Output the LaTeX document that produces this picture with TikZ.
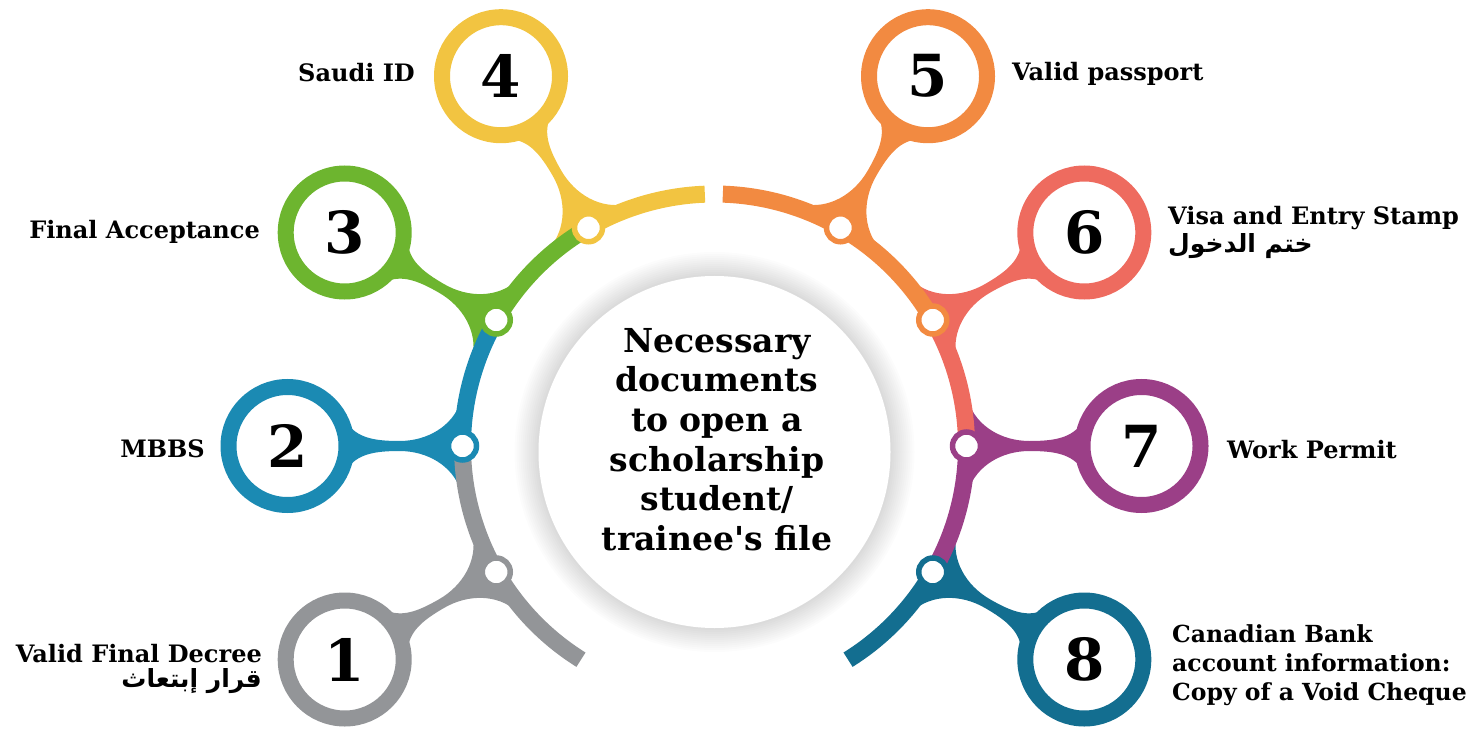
\documentclass[tikz,border=0pt]{standalone}
\usepackage{fontspec}
\setmainfont{DejaVu Serif}[Ligatures=TeXOff]
\newfontfamily\arabicfont[Script=Arabic]{DejaVu Sans}
\TeXXeTstate=1
\usetikzlibrary{calc}
\definecolor{cgray}{HTML}{939598}
\definecolor{cblue}{HTML}{1B8AB3}
\definecolor{cgreen}{HTML}{6DB52F}
\definecolor{cyellow}{HTML}{F2C441}
\definecolor{corange}{HTML}{F28A41}
\definecolor{csalmon}{HTML}{EE6B5F}
\definecolor{cpurple}{HTML}{9B3F87}
\definecolor{cteal}{HTML}{136E90}
\newcommand\branchshape[2]{%
  \fill[#2, shift={(C)}, rotate=#1] (254,44) .. controls (262,20) and (287,5) .. (315,5)
    .. controls (340,5) and (358,8) .. (368,24) -- (427,0) -- (368,-24)
    .. controls (358,-8) and (340,-5) .. (315,-5)
    .. controls (287,-5) and (262,-20) .. (254,-44) -- cycle;}
\begin{document}
\begin{tikzpicture}[x=1pt,y=1pt,
  numcirc/.style={circle, draw=#1, line width=16pt, fill=white, minimum size=118pt, inner sep=0pt,
     font=\fontsize{58}{58}\selectfont\bfseries},
  jointring/.style={circle, draw=#1, line width=5.5pt, fill=white, minimum size=28pt, inner sep=0pt},
  seg/.style={draw=#1, line width=17pt},
  lbl/.style={inner sep=0pt, font=\fontsize{24}{29}\selectfont\bfseries},
  arab/.style={inner sep=0pt, font=\fontsize{25}{29}\selectfont\arabicfont\bfseries},
  ]
\useasboundingbox (0,0) rectangle (1474,732);
\coordinate (C) at (714.5,286);
\coordinate (Cc) at (714.5,280);
% shadow and central circle
\foreach \i in {1,...,12} {\fill[black, opacity=0.011] (Cc) circle ({176+2*\i});}
\fill[white] (Cc) circle (176);
\node[font=\fontsize{33}{39.6}\selectfont\bfseries, align=center, anchor=north, inner sep=0pt] (title)
  at (717,404) {Necessary\\documents\\to open a\\scholarship\\student/\\trainee's file};
% branches
\branchshape{210}{cgray}
\branchshape{180}{cblue}
\branchshape{150}{cgreen}
\branchshape{120}{cyellow}
\branchshape{60}{corange}
\branchshape{30}{csalmon}
\branchshape{0}{cpurple}
\branchshape{-30}{cteal}
% arc segments
\draw[seg=cgray] ($(C)+(238:252)$) arc[start angle=238, end angle=180, radius=252];
\draw[seg=cblue] ($(C)+(180:252)$) arc[start angle=180, end angle=150, radius=252];
\draw[seg=cgreen] ($(C)+(150:252)$) arc[start angle=150, end angle=120, radius=252];
\draw[seg=cyellow] ($(C)+(120:252)$) arc[start angle=120, end angle=92.2, radius=252];
\draw[seg=corange] ($(C)+(88.1:252)$) arc[start angle=88.1, end angle=30, radius=252];
\draw[seg=csalmon] ($(C)+(30:252)$) arc[start angle=30, end angle=0, radius=252];
\draw[seg=cpurple] ($(C)+(0:252)$) arc[start angle=0, end angle=-30, radius=252];
\draw[seg=cteal] ($(C)+(-30:252)$) arc[start angle=-30, end angle=-58, radius=252];
% number circles
\node[numcirc=cgray] (n1) at ($(C)+(210:427)$) {1};
\node[numcirc=cblue] (n2) at ($(C)+(180:427)$) {2};
\node[numcirc=cgreen] (n3) at ($(C)+(150:427)$) {3};
\node[numcirc=cyellow] (n4) at ($(C)+(120:427)$) {4};
\node[numcirc=corange] (n5) at ($(C)+(60:427)$) {5};
\node[numcirc=csalmon] (n6) at ($(C)+(30:427)$) {6};
\node[numcirc=cpurple] (n7) at ($(C)+(0:427)$) {7};
\node[numcirc=cteal] (n8) at ($(C)+(-30:427)$) {8};
% joint rings
\node[jointring=cgray] (j1) at ($(C)+(210:252)$) {};
\node[jointring=cblue] (j2) at ($(C)+(180:252)$) {};
\node[jointring=cgreen] (j3) at ($(C)+(150:252)$) {};
\node[jointring=cyellow] (j4) at ($(C)+(120:252)$) {};
\node[jointring=corange] (j5) at ($(C)+(60:252)$) {};
\node[jointring=corange] (j6) at ($(C)+(30:252)$) {};
\node[jointring=cpurple] (j7) at ($(C)+(0:252)$) {};
\node[jointring=cteal] (j8) at ($(C)+(-30:252)$) {};
% labels
\node[lbl, anchor=base east] (l4) at (415,650) {Saudi ID};
\node[lbl, anchor=base east] (l3) at (260,493) {Final Acceptance};
\node[lbl, anchor=base east] (l2) at (205,275) {MBBS};
\node[lbl, anchor=base east] (l1) at (262,70) {Valid Final Decree};
\node[arab, anchor=base east] (l1a) at (262,45) {\beginR قرار إبتعاث\endR};
\node[lbl, anchor=base west] (l5) at (1012,651) {Valid passport};
\node[lbl, anchor=base west] (l6) at (1168,507) {Visa and Entry Stamp};
\node[arab, anchor=base west] (l6a) at (1168,479) {\beginR ختم الدخول\endR};
\node[lbl, anchor=base west] (l7) at (1227,274) {Work Permit};
\node[lbl, anchor=north west, align=left, font=\fontsize{23.5}{29}\selectfont\bfseries] (l8) at (1172,107.5) {Canadian Bank\\account information:\\Copy of a Void Cheque};
\end{tikzpicture}
\end{document}
